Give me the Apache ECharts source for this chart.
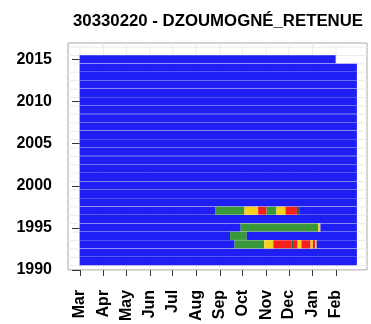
<!DOCTYPE html>
<html>
<head>
<meta charset="utf-8">
<title>30330220 - DZOUMOGNÉ_RETENUE</title>
<script src="https://cdn.jsdelivr.net/npm/echarts@6/dist/echarts.min.js"></script>
<style>
  html, body { margin: 0; padding: 0; background: #fff; }
  #chart { width: 371px; height: 324px; }
</style>
</head>
<body>
<div id="chart"></div>
<script>
// Hydrological year runs from 1 March (day 0) to the end of February.
const monthNames = ['Mar', 'Apr', 'May', 'Jun', 'Jul', 'Aug', 'Sep', 'Oct', 'Nov', 'Dec', 'Jan', 'Feb'];
const monthStartDay = [0, 31, 61, 92, 122, 153, 184, 214, 245, 275, 306, 337];
const yearTicks = [1990, 1995, 2000, 2005, 2010, 2015];

// One row per year, with the last recorded day of that hydrological year.
const years = [1991, 1992, 1993, 1994, 1995, 1996, 1997, 1998, 1999, 2000, 2001, 2002, 2003,
               2004, 2005, 2006, 2007, 2008, 2009, 2010, 2011, 2012, 2013, 2014, 2015];
const lastDay = [364, 364, 364, 364, 364, 364, 364, 364, 364, 364, 364, 364, 364,
                 364, 364, 364, 364, 364, 364, 364, 364, 364, 364, 364, 336];

// Days whose status differs from the default class: [year, firstDay, lastDay, class]
const statusRuns = [
  [1993, 204, 242, 'g'], [1993, 243, 254, 'y'], [1993, 255, 278, 'r'], [1993, 279, 281, 'k'],
  [1993, 282, 286, 'r'], [1993, 287, 291, 'y'], [1993, 292, 303, 'r'], [1993, 304, 306, 'y'],
  [1993, 307, 309, 'r'], [1993, 310, 311, 'y'],
  [1994, 198, 219, 'g'],
  [1995, 212, 313, 'g'], [1995, 314, 316, 'y'],
  [1997, 179, 216, 'g'], [1997, 217, 234, 'y'], [1997, 235, 245, 'r'], [1997, 246, 258, 'g'],
  [1997, 259, 270, 'y'], [1997, 271, 285, 'r'], [1997, 286, 289, 'k']
];
const defaultClass = 'b';
const classColors = { b: '#1f1ff5', g: '#3a973a', y: '#f6d21f', r: '#f41f1f', k: '#2b5a4c' };

const FONT = '"Liberation Sans", Arial, Helvetica, sans-serif';

// Daily status per year, then merged into runs of identical status.
const segments = [];
years.forEach((yr, i) => {
  let start = 0, cur = null;
  for (let d = 0; d <= lastDay[i] + 1; d++) {
    let cls = null;
    if (d <= lastDay[i]) {
      cls = defaultClass;
      for (const run of statusRuns) {
        if (run[0] === yr && d >= run[1] && d <= run[2]) { cls = run[3]; break; }
      }
    }
    if (cls !== cur) {
      if (cur !== null) segments.push([start, d - 1, yr, cur]);
      start = d; cur = cls;
    }
  }
});

// Light background guides: month starts and row boundaries.
const guides = [];
monthStartDay.forEach(d => guides.push([0, d]));
for (let y = 1990; y <= 2016; y++) guides.push([1, y + 0.5]);

const chart = echarts.init(document.getElementById('chart'), null, { renderer: 'canvas' });

chart.setOption({
  animation: false,
  title: {
    text: '30330220 - DZOUMOGNÉ_RETENUE',
    left: 213,
    top: 8,
    textAlign: 'center',
    textStyle: { fontFamily: FONT, fontSize: 16.8, fontWeight: 'bold', color: '#000' }
  },
  grid: {
    left: 68, top: 43, width: 299, height: 227.5,
    show: true, borderColor: '#a8a8a8', borderWidth: 1, backgroundColor: '#fff'
  },
  xAxis: {
    type: 'value',
    min: -15.8, max: 377.8,
    axisLine: { show: false },
    splitLine: { show: false },
    axisTick: { show: true, length: 6, lineStyle: { color: '#333', width: 1 }, customValues: monthStartDay },
    axisLabel: {
      customValues: monthStartDay,
      rotate: 90,
      margin: 20,
      fontFamily: FONT, fontSize: 16, fontWeight: 'bold', color: '#000',
      formatter: v => monthNames[monthStartDay.indexOf(v)] || ''
    }
  },
  yAxis: {
    type: 'value',
    min: 1990, max: 2016.98,
    axisLine: { show: false },
    splitLine: { show: false },
    axisTick: { show: true, length: 8, lineStyle: { color: '#333', width: 1 }, customValues: yearTicks },
    axisLabel: {
      customValues: yearTicks,
      margin: 16,
      fontFamily: FONT, fontSize: 16, fontWeight: 'bold', color: '#000',
      formatter: v => String(v)
    }
  },
  series: [
    {
      type: 'custom',
      name: 'guides',
      silent: true,
      z: 1,
      data: guides,
      renderItem: (params, api) => {
        const cs = params.coordSys;
        if (api.value(0) === 0) {
          const x = api.coord([api.value(1), 2000])[0];
          return { type: 'line', shape: { x1: x, y1: cs.y, x2: x, y2: cs.y + cs.height },
                   style: { stroke: '#ebebeb', lineWidth: 1 } };
        }
        const y = api.coord([0, api.value(1)])[1];
        return { type: 'line', shape: { x1: cs.x, y1: y, x2: cs.x + cs.width, y2: y },
                 style: { stroke: '#ebebeb', lineWidth: 1 } };
      }
    },
    {
      type: 'custom',
      name: 'status',
      z: 2,
      data: segments,
      dimensions: ['first', 'last', 'year', 'cls'],
      encode: { x: [0, 1], y: 2 },
      renderItem: (params, api) => {
        const seg = segments[params.dataIndex];
        const p0 = api.coord([seg[0] - 0.5, seg[2] + 0.52]);
        const p1 = api.coord([seg[1] + 0.5, seg[2] - 0.44]);
        return {
          type: 'rect',
          shape: { x: p0[0], y: p0[1], width: p1[0] - p0[0], height: p1[1] - p0[1] },
          style: { fill: classColors[seg[3]] }
        };
      }
    }
  ]
});
</script>
</body>
</html>
